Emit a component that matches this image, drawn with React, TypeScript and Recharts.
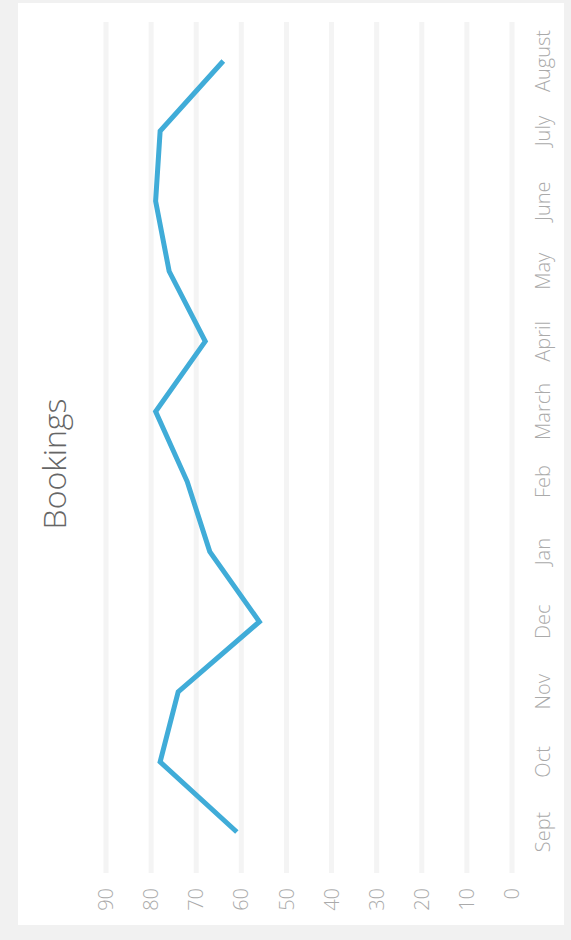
import React from "react";
import { LineChart, Line, XAxis, YAxis, CartesianGrid } from "recharts";

const months = ["Sept", "Oct", "Nov", "Dec", "Jan", "Feb", "March", "April", "May", "June", "July", "August"];
const bookings = [61, 78, 74, 56, 67, 72, 79, 68, 76, 79, 78, 64];
const valueTicks = [0, 10, 20, 30, 40, 50, 60, 70, 80, 90];
const title = "Bookings";

const data = months.map((m, i) => ({ month: m, bookings: bookings[i] }));

const FONT = "'Open Sans', 'Noto Sans', sans-serif";

export default function App() {
  return (
    <div
      style={{
        position: "absolute",
        left: 0,
        top: 0,
        width: 571,
        height: 940,
        background: "#f1f1f1",
        overflow: "hidden",
      }}
    >
      <div
        style={{
          position: "absolute",
          left: 0,
          top: 0,
          width: 940,
          height: 571,
          transformOrigin: "0 0",
          transform: "translate(0px, 940px) rotate(-90deg)",
        }}
      >
        <div
          style={{
            position: "absolute",
            left: 15,
            top: 18,
            width: 922,
            height: 546,
            background: "#ffffff",
          }}
        />
        <div
          style={{
            position: "absolute",
            left: 476 - 200,
            top: 54 - 20,
            width: 400,
            height: 40,
            lineHeight: "40px",
            textAlign: "center",
            fontFamily: FONT,
            fontWeight: 300,
            fontSize: 32,
            color: "#666666",
          }}
        >
          {title}
        </div>
        <div style={{ position: "absolute", left: 0, top: 0 }}>
          <LineChart
            width={940}
            height={571}
            data={data}
            margin={{ top: 106, right: 22, bottom: 29, left: 0 }}
          >
            <CartesianGrid vertical={false} stroke="#f4f4f4" strokeWidth={5} />
            <XAxis
              dataKey="month"
              height={30}
              axisLine={false}
              tickLine={false}
              tickSize={0}
              tickMargin={24}
              padding={{ left: 41, right: 39 }}
              interval={0}
              tick={{ fill: "#aaaaaa", fontSize: 20, fontFamily: FONT, fontWeight: 300 }}
            />
            <YAxis
              width={67}
              domain={[0, 90]}
              ticks={valueTicks}
              axisLine={false}
              tickLine={false}
              tickSize={0}
              tickMargin={15}
              interval={0}
              tick={{ fill: "#aaaaaa", fontSize: 20, fontFamily: FONT, fontWeight: 300 }}
            />
            <Line
              type="linear"
              dataKey="bookings"
              stroke="#40acd8"
              strokeWidth={5}
              dot={false}
              activeDot={false}
              isAnimationActive={false}
            />
          </LineChart>
        </div>
      </div>
    </div>
  );
}
